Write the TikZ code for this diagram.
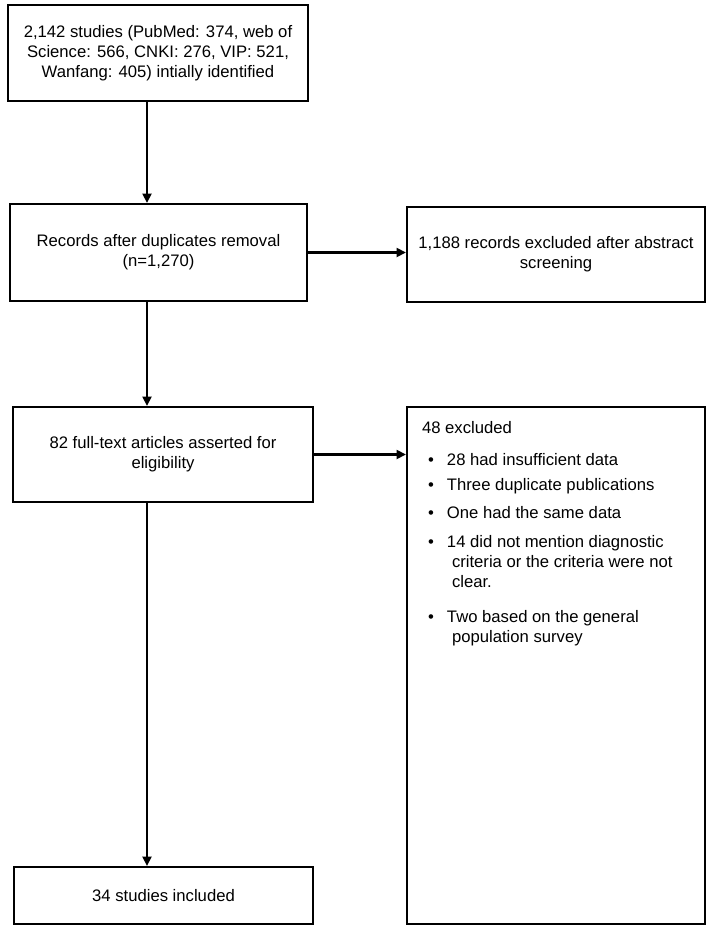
\documentclass[tikz,border=0pt]{standalone}
\usepackage{fontspec}
\setmainfont{Liberation Sans}
\usetikzlibrary{arrows.meta}

\newcommand{\puce}{\hspace*{3.6pt}\makebox[11.4pt][l]{\textbullet}}
\newcommand{\suite}{\hspace*{18pt}}

\begin{document}
\begin{tikzpicture}[x=0.6pt, y=-0.6pt, line width=1.3pt]
  \tikzstyle{box}=[draw, rectangle, inner sep=0, align=center, font=\fontsize{10}{12}\selectfont];
  \tikzstyle{flow}=[-{Triangle[length=5.6pt, width=5.4pt]}];

  \useasboundingbox (0,0) rectangle (709,931);

  \node[box, minimum width=180pt, minimum height=57.6pt] (ident) at (158,53)
    {2,142 studies (PubMed: 374, web of\\Science: 566, CNKI: 276, VIP: 521,\\Wanfang: 405) intially identified};
  \node[box, minimum width=178.2pt, minimum height=58.2pt] (dedup) at (158.5,252.5)
    {Records after duplicates removal\\(n=1,270)};
  \node[box, minimum width=178.8pt, minimum height=57pt] (screen) at (556,254.5)
    {1,188 records excluded after abstract\\screening};
  \node[box, minimum width=180pt, minimum height=57pt] (full) at (163,454.5)
    {82 full-text articles asserted for\\eligibility};
  \node[box, minimum width=178.8pt, minimum height=310.2pt] (excl) at (556,665.5) {};
  \node[box, minimum width=179.4pt, minimum height=34.2pt] (incl) at (163.5,895.5)
    {34 studies included};

  % list of the 48 exclusions
  \node[anchor=north west, inner sep=0, align=left, font=\fontsize{10}{12}\selectfont] (exlist)
    at ([xshift=9pt, yshift=-8.4pt]excl.north west)
    {48 excluded\\[7.2pt]
     \puce 28 had insufficient data\\[3pt]
     \puce Three duplicate publications\\[4.8pt]
     \puce One had the same data\\[5.4pt]
     \puce 14 did not mention diagnostic\\
     \suite criteria or the criteria were not\\
     \suite clear.\\[9.4pt]
     \puce Two based on the general\\
     \suite population survey};

  \coordinate (spine) at (147,0);
  \draw[flow] (ident.south -| spine) -- (dedup.north -| spine);
  \draw[flow] (dedup.east) -- (dedup.east -| screen.west);
  \draw[flow] (dedup.south -| spine) -- (full.north -| spine);
  \draw[flow] (full.east) -- (full.east -| excl.west);
  \draw[flow] (full.south -| spine) -- (incl.north -| spine);
\end{tikzpicture}
\end{document}
